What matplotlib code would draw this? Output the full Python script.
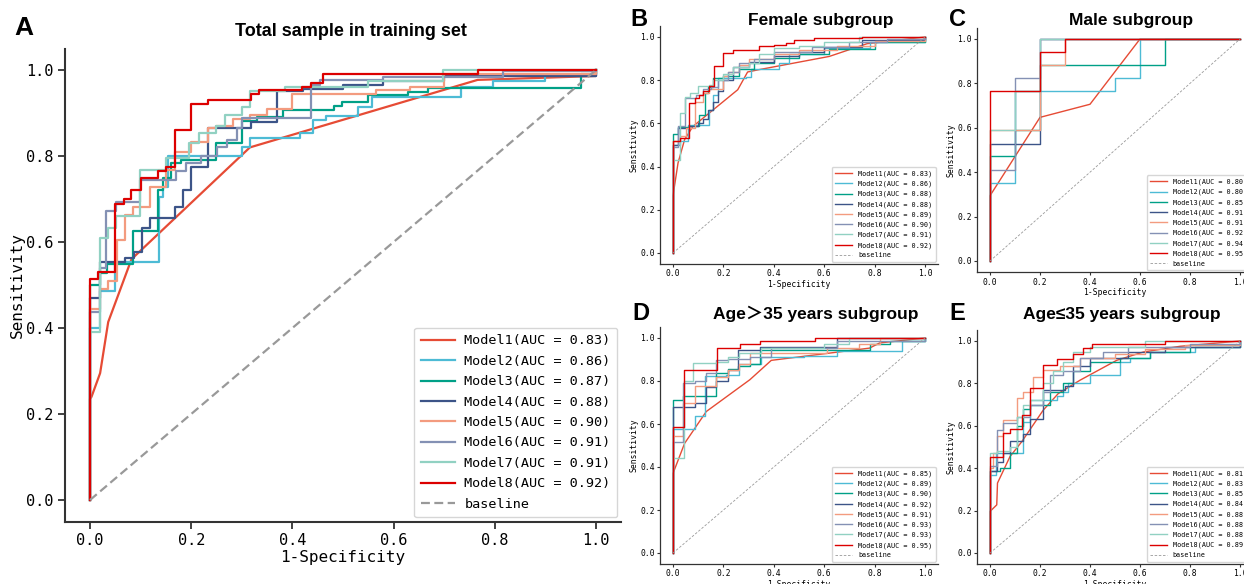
import matplotlib
matplotlib.use("Agg")
import matplotlib.pyplot as plt

plt.rcParams['font.family'] = ['DejaVu Sans Mono', 'Noto Sans CJK SC']

#  DATA
COLORS = ['#E64B35', '#4DBBD5', '#00A087', '#3C5488',
          '#F39B7F', '#8491B4', '#91D1C2', '#DC0000']
TICKS = [0.0, 0.2, 0.4, 0.6, 0.8, 1.0]
TICK_LABELS = ['0.0', '0.2', '0.4', '0.6', '0.8', '1.0']

# A - total sample in training set
A_AUC = [0.83, 0.86, 0.87, 0.88, 0.90, 0.91, 0.91, 0.92]
A_FPR = [
    [0, 0, 0.003, 0.02, 0.036, 0.082, 0.316, 0.766, 1.0, 1.0],
    [0, 0, 0.02, 0.05, 0.136, 0.145, 0.155, 0.30, 0.316, 0.416, 0.44, 0.467, 0.53, 0.558, 0.734, 0.797, 0.90, 1.0],
    [0, 0, 0.02, 0.034, 0.085, 0.134, 0.145, 0.16, 0.18, 0.25, 0.30, 0.33, 0.382, 0.483, 0.499, 0.55, 0.628, 0.668, 0.97, 1.0],
    [0, 0, 0.02, 0.069, 0.086, 0.102, 0.119, 0.168, 0.184, 0.20, 0.234, 0.255, 0.318, 0.369, 0.42, 0.50, 0.58, 0.70, 1.0],
    [0, 0, 0.02, 0.035, 0.053, 0.069, 0.085, 0.118, 0.151, 0.168, 0.20, 0.234, 0.25, 0.283, 0.316, 0.349, 0.40, 0.566, 0.632, 0.70, 1.0],
    [0, 0, 0.02, 0.031, 0.051, 0.098, 0.169, 0.189, 0.22, 0.251, 0.271, 0.29, 0.30, 0.436, 0.454, 0.58, 0.817, 1.0],
    [0, 0, 0.02, 0.036, 0.051, 0.098, 0.151, 0.196, 0.216, 0.25, 0.267, 0.30, 0.316, 0.385, 0.55, 0.698, 1.0],
    [0, 0, 0.016, 0.05, 0.067, 0.082, 0.10, 0.134, 0.15, 0.167, 0.20, 0.233, 0.318, 0.334, 0.418, 0.436, 0.46, 0.766, 1.0],
]
A_TPR = [
    [0, 0.235, 0.24, 0.295, 0.414, 0.56, 0.82, 0.977, 0.986, 1.0],
    [0, 0.40, 0.487, 0.554, 0.705, 0.729, 0.80, 0.822, 0.843, 0.853, 0.884, 0.893, 0.915, 0.938, 0.96, 0.975, 0.985, 1.0],
    [0, 0.50, 0.527, 0.55, 0.625, 0.72, 0.749, 0.783, 0.79, 0.83, 0.881, 0.891, 0.907, 0.916, 0.926, 0.942, 0.95, 0.957, 0.99, 1.0],
    [0, 0.47, 0.554, 0.562, 0.577, 0.632, 0.655, 0.682, 0.72, 0.775, 0.864, 0.866, 0.878, 0.952, 0.955, 0.965, 0.975, 0.985, 1.0],
    [0, 0.445, 0.49, 0.51, 0.605, 0.663, 0.682, 0.729, 0.767, 0.81, 0.833, 0.864, 0.87, 0.885, 0.895, 0.91, 0.944, 0.953, 0.96, 0.99, 1.0],
    [0, 0.438, 0.539, 0.673, 0.694, 0.744, 0.764, 0.783, 0.80, 0.822, 0.838, 0.865, 0.888, 0.965, 0.977, 0.983, 0.998, 1.0],
    [0, 0.39, 0.609, 0.633, 0.66, 0.767, 0.795, 0.83, 0.854, 0.87, 0.895, 0.915, 0.952, 0.96, 0.975, 1.0, 1.0],
    [0, 0.515, 0.53, 0.688, 0.70, 0.72, 0.75, 0.765, 0.775, 0.86, 0.92, 0.93, 0.944, 0.953, 0.96, 0.97, 0.99, 1.0, 1.0],
]

# B - female subgroup
B_AUC = [0.83, 0.86, 0.88, 0.88, 0.89, 0.90, 0.91, 0.92]
B_FPR = [
    [0, 0, 0.02, 0.046, 0.079, 0.257, 0.296, 0.342, 0.62, 0.77, 1.0],
    [0, 0, 0.026, 0.059, 0.142, 0.16, 0.18, 0.29, 0.31, 0.42, 0.46, 0.60, 0.78, 1.0],
    [0, 0, 0.02, 0.063, 0.105, 0.125, 0.14, 0.16, 0.20, 0.26, 0.32, 0.40, 0.50, 0.62, 0.80, 1.0],
    [0, 0, 0.02, 0.063, 0.10, 0.12, 0.14, 0.16, 0.18, 0.20, 0.24, 0.30, 0.40, 0.50, 0.60, 0.75, 1.0],
    [0, 0, 0.026, 0.05, 0.086, 0.12, 0.142, 0.20, 0.22, 0.26, 0.30, 0.40, 0.50, 0.65, 0.80, 1.0],
    [0, 0, 0.02, 0.046, 0.092, 0.12, 0.15, 0.18, 0.22, 0.26, 0.32, 0.40, 0.55, 0.70, 0.85, 1.0],
    [0, 0, 0.026, 0.046, 0.066, 0.10, 0.142, 0.16, 0.20, 0.24, 0.30, 0.34, 0.40, 0.50, 0.60, 0.74, 1.0],
    [0, 0, 0.026, 0.063, 0.086, 0.103, 0.118, 0.142, 0.161, 0.20, 0.24, 0.34, 0.40, 0.447, 0.48, 0.56, 0.75, 1.0],
]
B_TPR = [
    [0, 0.265, 0.417, 0.525, 0.586, 0.756, 0.838, 0.849, 0.91, 0.969, 1.0],
    [0, 0.50, 0.517, 0.594, 0.664, 0.73, 0.81, 0.815, 0.85, 0.88, 0.92, 0.95, 0.975, 1.0],
    [0, 0.55, 0.585, 0.59, 0.64, 0.74, 0.77, 0.81, 0.82, 0.85, 0.88, 0.905, 0.92, 0.945, 0.975, 1.0],
    [0, 0.50, 0.58, 0.59, 0.60, 0.62, 0.66, 0.70, 0.75, 0.80, 0.86, 0.885, 0.91, 0.93, 0.955, 0.985, 1.0],
    [0, 0.52, 0.54, 0.58, 0.70, 0.74, 0.76, 0.82, 0.84, 0.87, 0.90, 0.92, 0.94, 0.96, 0.98, 1.0],
    [0, 0.49, 0.586, 0.718, 0.73, 0.76, 0.77, 0.80, 0.84, 0.88, 0.90, 0.93, 0.955, 0.975, 0.99, 1.0],
    [0, 0.43, 0.65, 0.72, 0.74, 0.775, 0.78, 0.80, 0.83, 0.86, 0.88, 0.92, 0.95, 0.96, 0.975, 1.0, 1.0],
    [0, 0.517, 0.532, 0.694, 0.718, 0.733, 0.748, 0.772, 0.864, 0.926, 0.938, 0.957, 0.965, 0.972, 0.988, 0.995, 1.0, 1.0],
]

# C - male subgroup
C_AUC = [0.80, 0.80, 0.85, 0.91, 0.91, 0.92, 0.94, 0.95]
C_FPR = [
    [0, 0, 0.2, 0.4, 0.6, 1.0],
    [0, 0, 0.1, 0.5, 0.6, 1.0],
    [0, 0, 0.1, 0.2, 0.7, 1.0],
    [0, 0, 0.2, 1.0],
    [0, 0, 0.2, 0.3, 1.0],
    [0, 0, 0.1, 0.2, 1.0],
    [0, 0, 0.1, 0.2, 1.0],
    [0, 0, 0.2, 0.3, 1.0],
]
C_TPR = [
    [0, 0.294, 0.647, 0.706, 1.0, 1.0],
    [0, 0.353, 0.765, 0.824, 1.0, 1.0],
    [0, 0.471, 0.588, 0.882, 1.0, 1.0],
    [0, 0.529, 1.0, 1.0],
    [0, 0.588, 0.882, 1.0, 1.0],
    [0, 0.412, 0.824, 1.0, 1.0],
    [0, 0.588, 0.765, 1.0, 1.0],
    [0, 0.765, 0.941, 1.0, 1.0],
]

# D - age > 35 years
D_AUC = [0.85, 0.89, 0.90, 0.92, 0.91, 0.93, 0.93, 0.95]
D_FPR = [
    [0, 0, 0.046, 0.132, 0.305, 0.39, 0.78, 0.82, 1.0],
    [0, 0, 0.086, 0.126, 0.21, 0.26, 0.35, 0.52, 0.65, 0.91, 1.0],
    [0, 0, 0.04, 0.172, 0.219, 0.258, 0.305, 0.344, 0.78, 0.86, 1.0],
    [0, 0, 0.086, 0.13, 0.172, 0.219, 0.258, 0.345, 0.65, 1.0],
    [0, 0, 0.04, 0.086, 0.172, 0.219, 0.26, 0.305, 0.61, 0.74, 0.82, 1.0],
    [0, 0, 0.04, 0.086, 0.13, 0.172, 0.219, 0.305, 0.39, 0.65, 1.0],
    [0, 0, 0.042, 0.08, 0.172, 0.22, 0.26, 0.35, 0.60, 0.70, 1.0],
    [0, 0, 0.042, 0.175, 0.265, 0.344, 0.563, 1.0],
]
D_TPR = [
    [0, 0.37, 0.51, 0.658, 0.806, 0.896, 0.953, 0.977, 1.0],
    [0, 0.577, 0.638, 0.821, 0.83, 0.88, 0.91, 0.915, 0.94, 0.985, 1.0],
    [0, 0.713, 0.728, 0.837, 0.855, 0.868, 0.88, 0.946, 0.97, 0.985, 1.0],
    [0, 0.681, 0.697, 0.77, 0.80, 0.85, 0.946, 0.96, 1.0, 1.0],
    [0, 0.545, 0.697, 0.775, 0.82, 0.85, 0.88, 0.93, 0.955, 0.97, 1.0, 1.0],
    [0, 0.515, 0.79, 0.80, 0.835, 0.896, 0.90, 0.91, 0.955, 0.985, 1.0],
    [0, 0.44, 0.80, 0.883, 0.89, 0.91, 0.93, 0.955, 0.97, 1.0, 1.0],
    [0, 0.588, 0.849, 0.953, 0.97, 0.985, 1.0, 1.0],
]

# E - age <= 35 years
E_AUC = [0.81, 0.83, 0.85, 0.84, 0.88, 0.88, 0.88, 0.89]
E_FPR = [
    [0, 0, 0.027, 0.03, 0.08, 0.127, 0.213, 0.273, 0.36, 0.507, 0.613, 0.76, 1.0],
    [0, 0, 0.024, 0.133, 0.16, 0.267, 0.29, 0.31, 0.40, 0.52, 0.56, 0.64, 0.82, 1.0],
    [0, 0, 0.04, 0.08, 0.107, 0.133, 0.16, 0.24, 0.293, 0.33, 0.40, 0.52, 0.64, 0.80, 1.0],
    [0, 0, 0.027, 0.053, 0.08, 0.133, 0.16, 0.213, 0.30, 0.333, 0.40, 0.55, 0.70, 1.0],
    [0, 0, 0.013, 0.027, 0.053, 0.107, 0.133, 0.173, 0.213, 0.28, 0.36, 0.50, 0.62, 0.78, 1.0],
    [0, 0, 0.027, 0.053, 0.107, 0.16, 0.213, 0.24, 0.293, 0.36, 0.45, 0.55, 0.80, 1.0],
    [0, 0, 0.027, 0.08, 0.107, 0.133, 0.16, 0.213, 0.253, 0.293, 0.333, 0.40, 0.62, 1.0],
    [0, 0, 0.053, 0.08, 0.127, 0.16, 0.213, 0.267, 0.333, 0.373, 0.407, 0.70, 1.0],
]
E_TPR = [
    [0, 0.196, 0.227, 0.33, 0.455, 0.525, 0.674, 0.752, 0.815, 0.909, 0.948, 0.975, 1.0],
    [0, 0.37, 0.47, 0.62, 0.72, 0.74, 0.76, 0.80, 0.84, 0.90, 0.92, 0.95, 0.97, 1.0],
    [0, 0.385, 0.40, 0.47, 0.60, 0.68, 0.70, 0.76, 0.80, 0.86, 0.90, 0.92, 0.95, 0.97, 1.0],
    [0, 0.385, 0.43, 0.47, 0.53, 0.56, 0.63, 0.77, 0.79, 0.88, 0.92, 0.95, 0.97, 1.0],
    [0, 0.40, 0.47, 0.55, 0.627, 0.729, 0.76, 0.83, 0.862, 0.88, 0.92, 0.94, 0.96, 0.98, 1.0],
    [0, 0.41, 0.58, 0.611, 0.64, 0.70, 0.76, 0.838, 0.86, 0.92, 0.95, 0.97, 0.985, 1.0],
    [0, 0.47, 0.48, 0.50, 0.64, 0.70, 0.72, 0.80, 0.86, 0.90, 0.95, 0.97, 1.0, 1.0],
    [0, 0.455, 0.564, 0.583, 0.65, 0.776, 0.886, 0.917, 0.94, 0.965, 0.987, 1.0, 1.0],
]

W, H = 1244, 584


#  AXES PLACEMENT (pixel positions of data 0 and 1)
def place(x0, x1, y0, y1):
    sx, sy = x1 - x0, y0 - y1
    left = x0 - 0.05 * sx
    bottom = y0 + 0.05 * sy
    return [left / W, 1 - bottom / H, 1.1 * sx / W, 1.1 * sy / H]


#  DRAW ONE ROC PANEL
def draw_panel(ax, fprs, tprs, aucs, big):
    lw = 1.6 if big else 1.0
    for i, (fpr, tpr, auc) in enumerate(zip(fprs, tprs, aucs)):
        style = 'default' if i == 0 else 'steps-post'
        ax.plot(fpr, tpr, color=COLORS[i], lw=lw, drawstyle=style,
                label=f"Model{i + 1}(AUC = {auc:.2f})")
    ax.plot([0, 1], [0, 1], color='#999999', ls='--',
            lw=1.6 if big else 0.6, dashes=(4, 2) if big else (3, 2),
            label='baseline')

    ax.set_xlim(-0.05, 1.05)
    ax.set_ylim(-0.05, 1.05)
    ax.set_xticks(TICKS)
    ax.set_xticklabels(TICK_LABELS)
    ax.set_yticks(TICKS)
    ax.set_yticklabels(TICK_LABELS)
    for s in ['top', 'right']:
        ax.spines[s].set_visible(False)
    for s in ['left', 'bottom']:
        ax.spines[s].set_linewidth(1.5 if big else 0.9)
        ax.spines[s].set_color('#333333')

    fs = 11 if big else 5.8
    ax.tick_params(labelsize=fs, length=5 if big else 2.5,
                   width=1.3 if big else 0.8, color='#333333', pad=3 if big else 1.5)
    ax.set_xlabel('1-Specificity', fontsize=fs + (0.5 if big else 0), labelpad=2 if big else 1)
    ax.set_ylabel('Sensitivity', fontsize=fs + (0.5 if big else 0), labelpad=1 if big else 1.5)

    if big:
        ax.legend(loc='lower right', fontsize=9.7, handlelength=2.5,
                  handletextpad=0.7, labelspacing=0.55, borderpad=0.5,
                  borderaxespad=0.3)
    else:
        ax.legend(loc='lower right', fontsize=4.9, handlelength=2.5,
                  handletextpad=0.8, labelspacing=0.55, borderpad=0.5,
                  borderaxespad=0.3)


fig = plt.figure(figsize=(W / 100, H / 100), dpi=100)

axA = fig.add_axes(place(90, 596, 500, 70))
axB = fig.add_axes(place(673, 925, 253, 37))
axC = fig.add_axes(place(990, 1240, 261, 39))
axD = fig.add_axes(place(673, 925, 553, 338))
axE = fig.add_axes(place(990, 1240, 553, 341))

draw_panel(axA, A_FPR, A_TPR, A_AUC, True)
draw_panel(axB, B_FPR, B_TPR, B_AUC, False)
draw_panel(axC, C_FPR, C_TPR, C_AUC, False)
draw_panel(axD, D_FPR, D_TPR, D_AUC, False)
draw_panel(axE, E_FPR, E_TPR, E_AUC, False)

# titles and panel letters
title_font = ['Liberation Sans', 'Noto Sans CJK SC']
titles = [
    ('A', 24, 28, 'Total sample in training set', 351, 32, 13),
    ('B', 639, 20, 'Female subgroup', 821, 21, 12.5),
    ('C', 957, 20, 'Male subgroup', 1131, 21, 12.5),
    ('D', 641, 313, 'Age\uff1e35 years subgroup', 816, 314, 12.5),
    ('E', 957, 313, 'Age\u226435 years subgroup', 1122, 314, 12.5),
]
for letter, lx, ly, text, tx, ty, tfs in titles:
    fig.text(lx / W, 1 - ly / H, letter, fontsize=19 if letter == 'A' else 17,
             fontweight='heavy', family=title_font, ha='center', va='center')
    fig.text(tx / W, 1 - ty / H, text, fontsize=tfs, fontweight='bold',
             family=title_font, ha='center', va='center')

fig.savefig('out.png', dpi=100)
